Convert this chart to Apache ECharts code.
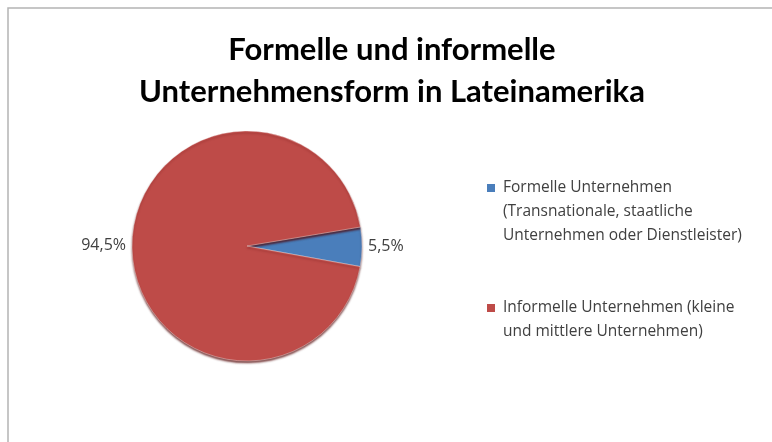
<!DOCTYPE html>
<html>
<head>
	<meta charset="utf-8">
	<title>Formelle und informelle Unternehmensform</title>
	<script src="https://cdn.jsdelivr.net/npm/echarts@6/dist/echarts.min.js"></script>
	<style>
		html, body { margin: 0; padding: 0; background: #fff; }
		#chart { width: 772px; height: 442px; }
	</style>
</head>
<body>
<div id="chart"></div>
<script>
// Daten
var categories = ['Formelle Unternehmen', 'Informelle Unternehmen'];
var values = [5.5, 94.5];
// Legendentext, letzte Zeile leer damit beide Eintraege 3 Zeilen haben
var legendLabels = [
    'Formelle Unternehmen\n(Transnationale, staatliche\nUnternehmen oder Dienstleister)',
    'Informelle Unternehmen (kleine\nund mittlere Unternehmen)\n '
];
var colors = ['#4a7ebb', '#be4b48'];

var chart = echarts.init(document.getElementById('chart'));

var pieData = [];
for (var i = 0; i < categories.length; i++) {
    pieData.push({name: categories[i], value: values[i]});
}

var option = {
    backgroundColor: '#fff',
    animation: false,
    color: colors,
    title: {
        text: 'Formelle und informelle\nUnternehmensform in Lateinamerika',
        left: 387,
        top: 24,
        textAlign: 'center',
        textStyle: {
            fontFamily: 'Lato',
            fontWeight: 'bold',
            fontSize: 31,
            lineHeight: 42,
            color: '#000'
        }
    },
    legend: {
        orient: 'vertical',
        left: 487,
        top: 176,
        padding: 0,
        itemGap: 48,
        itemWidth: 11,
        itemHeight: 56,
        // kleines Quadrat oben in einer hohen Box -> bündig mit der ersten Zeile
        icon: 'path://M0,0L8,0L8,8L0,8Z M11,56',
        data: categories,
        formatter: function (name) {
            return legendLabels[categories.indexOf(name)];
        },
        itemStyle: {borderWidth: 0},
        textStyle: {
            fontFamily: 'Open Sans',
            fontSize: 15.5,
            lineHeight: 24,
            color: '#404040'
        }
    },
    graphic: [{
        type: 'polyline',
        shape: {points: [[8, 460], [8, 8], [790, 8]]},
        style: {stroke: '#b4b4b4', lineWidth: 1.5, fill: null}
    }],
    series: [{
        type: 'pie',
        center: [247, 246],
        radius: 115,
        startAngle: 9.5,
        clockwise: true,
        data: pieData,
        itemStyle: {
            borderColor: 'rgba(255,255,255,0.6)',
            borderWidth: 0.6,
            shadowBlur: 2,
            shadowOffsetX: 0,
            shadowOffsetY: 2,
            shadowColor: 'rgba(80,0,0,0.7)'
        },
        label: {
            position: 'outside',
            formatter: function (p) {
                return p.value.toFixed(1).replace('.', ',') + '%';
            },
            fontFamily: 'Open Sans',
            fontSize: 16,
            color: '#404040',
            distanceToLabelLine: 6
        },
        labelLine: {show: false, length: 0, length2: 0},
        emphasis: {disabled: true}
    }]
};
chart.setOption(option);
</script>
</body>
</html>
